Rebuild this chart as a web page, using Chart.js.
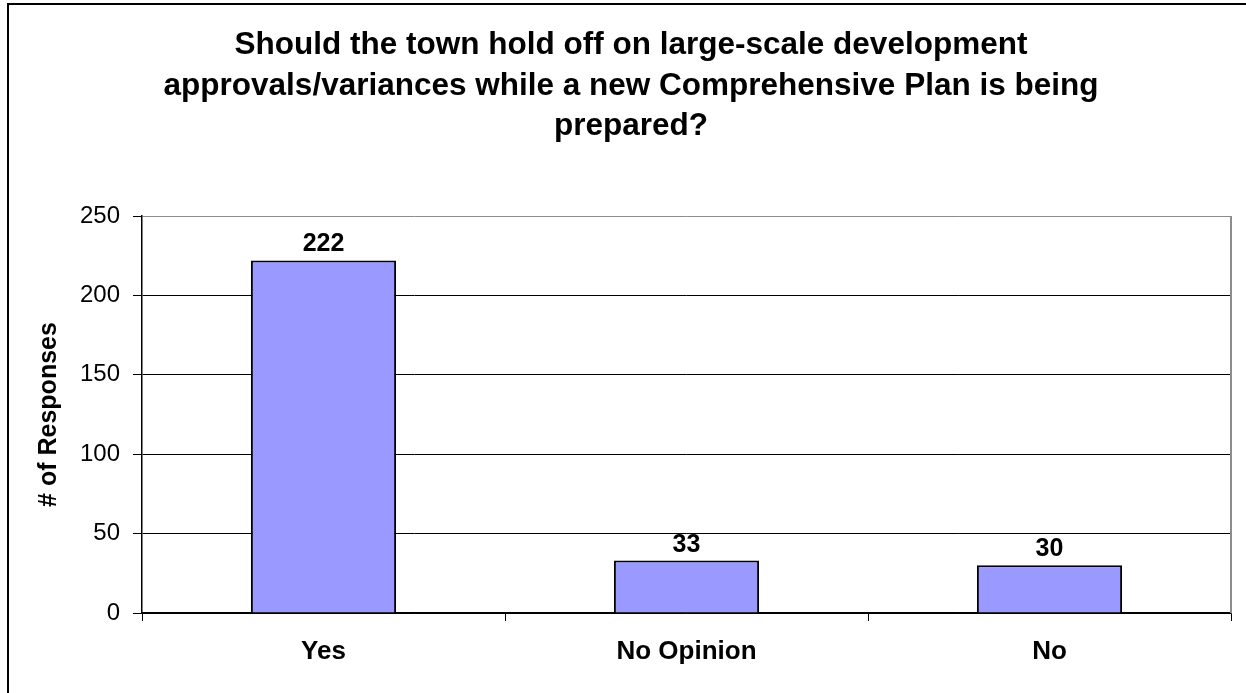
<!DOCTYPE html>
<html>
<head>
<meta charset="utf-8">
<script src="https://cdn.jsdelivr.net/npm/chart.js@4/dist/chart.umd.min.js"></script>
<style>
  html, body { margin: 0; padding: 0; background: #fff; }
  #wrap { width: 1246px; height: 693px; position: relative; }
</style>
</head>
<body>
<div id="wrap"><canvas id="c" width="1246" height="693"></canvas></div>
<script>
const titleLines = [
  'Should the town hold off on large-scale development',
  'approvals/variances while a new Comprehensive Plan is being',
  'prepared?'
];
const categories = ['Yes', 'No Opinion', 'No'];
const responses = [222, 33, 30];
const yAxisTitle = '# of Responses';
const yMin = 0;
const yMax = 250;
const yStep = 50;

const FONT = "'Liberation Sans', Arial, Helvetica, sans-serif";

const framePlugin = {
  id: 'frame',
  beforeDraw(chart) {
    const ctx = chart.ctx;
    ctx.save();
    ctx.fillStyle = '#ffffff';
    ctx.fillRect(0, 0, chart.width, chart.height);
    ctx.strokeStyle = '#000000';
    ctx.lineWidth = 2;
    ctx.strokeRect(8, 4, chart.width + 20, chart.height + 20);
    ctx.restore();
  },
  afterDraw(chart) {
    const ctx = chart.ctx;
    const a = chart.chartArea;
    ctx.save();
    ctx.strokeStyle = '#8c8c8c';
    ctx.lineWidth = 2;
    ctx.beginPath();
    ctx.moveTo(a.right, a.top);
    ctx.lineTo(a.right, a.bottom);
    ctx.stroke();
    ctx.restore();
  }
};

const valueLabelPlugin = {
  id: 'valueLabels',
  afterDatasetsDraw(chart) {
    const ctx = chart.ctx;
    const meta = chart.getDatasetMeta(0);
    ctx.save();
    ctx.fillStyle = '#000';
    ctx.font = 'bold 25px ' + FONT;
    ctx.textAlign = 'center';
    ctx.textBaseline = 'alphabetic';
    meta.data.forEach((bar, i) => {
      ctx.fillText(String(responses[i]), bar.x, bar.y - 9);
    });
    ctx.restore();
  }
};

new Chart(document.getElementById('c'), {
  type: 'bar',
  data: {
    labels: categories,
    datasets: [{
      data: responses,
      backgroundColor: '#9999FF',
      borderColor: '#000000',
      borderWidth: 2,
      barPercentage: 0.4,
      categoryPercentage: 1.0
    }]
  },
  options: {
    responsive: false,
    animation: false,
    layout: { padding: { left: 31, right: 15, top: 0, bottom: 0 } },
    plugins: {
      legend: { display: false },
      tooltip: { enabled: false },
      title: {
        display: true,
        text: titleLines,
        color: '#000',
        font: { family: FONT, size: 31.5, weight: 'bold', lineHeight: 1.286 },
        padding: { top: 25.5, bottom: 69 }
      }
    },
    scales: {
      x: {
        grid: {
          display: true,
          drawOnChartArea: false,
          drawTicks: true,
          tickLength: 8,
          color: '#000',
          offset: true
        },
        border: { display: true, color: '#000', width: 1.5 },
        ticks: {
          color: '#000',
          font: { family: FONT, size: 26, weight: 'bold' },
          padding: 15,
          maxRotation: 0,
          autoSkip: false
        },
        afterFit(scale) { scale.height = 80; }
      },
      y: {
        min: yMin,
        max: yMax,
        grid: {
          color: (ctx) => (ctx.tick && ctx.tick.value === yMax) ? '#8c8c8c' : '#000',
          tickColor: '#000',
          tickLength: 9,
          lineWidth: 1
        },
        border: { display: true, color: '#000', width: 1.5 },
        ticks: {
          stepSize: yStep,
          color: '#000',
          font: { family: FONT, size: 24 },
          padding: 13
        },
        title: {
          display: true,
          text: yAxisTitle,
          color: '#000',
          font: { family: FONT, size: 25, weight: 'bold', lineHeight: 1.2 },
          padding: { top: 3, bottom: 0 }
        },
        afterFit(scale) { scale.width = 111; }
      }
    }
  },
  plugins: [framePlugin, valueLabelPlugin]
});
</script>
</body>
</html>
